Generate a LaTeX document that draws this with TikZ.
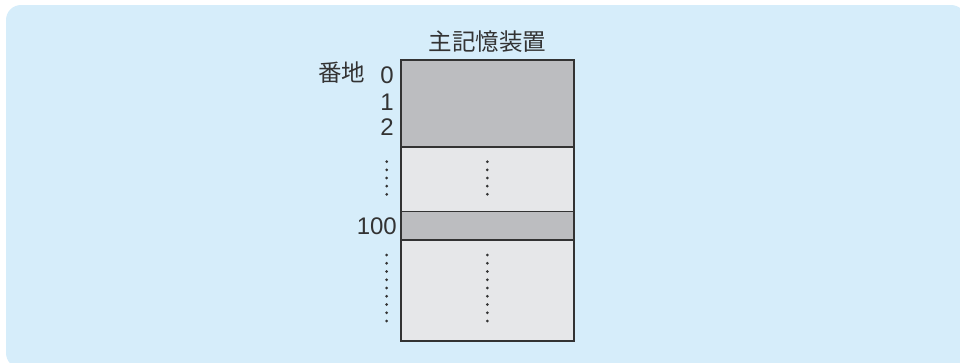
\documentclass[tikz,border=0pt]{standalone}
\usepackage{fontspec}
\setmainfont{Liberation Sans}
\newfontfamily\cjk{Noto Sans CJK JP}
\definecolor{bgblue}{HTML}{D6EDFA}
\definecolor{darkcell}{HTML}{BCBDC0}
\definecolor{lightcell}{HTML}{E6E7E9}
\definecolor{ink}{HTML}{333333}
\tikzset{
  cell/.style={draw=ink, line width=1.6pt},
  lbl/.style={text=ink, inner sep=0pt, font=\fontsize{24}{24}\selectfont},
  cjklbl/.style={text=ink, inner sep=0pt, font=\cjk\fontsize{23.5}{23.5}\selectfont},
  dotmark/.style={fill=ink, draw=none}
}
\begin{document}
\begin{tikzpicture}[x=1pt,y=-1pt]
\useasboundingbox (0,0) rectangle (960,362);
\begin{scope}
\clip (0,0) rectangle (960,362);
\fill[bgblue, rounded corners=15pt] (6,5) rectangle (966,368);
\end{scope}
% memory cells
\draw[cell, fill=darkcell] (401,60) rectangle (574,146.7);
\draw[cell, fill=lightcell] (401,146.7) rectangle (574,211.3);
\draw[cell, fill=darkcell] (401,211.3) rectangle (574,240);
\draw[cell, fill=lightcell] (401,240) rectangle (574,341);
% title
\node[cjklbl] (title) at (487.5,42) {主記憶装置};
% address labels
\node[cjklbl, anchor=east] (addr) at (365.5,72.5) {番地};
\node[lbl, anchor=base east] (a0) at (394,83.3) {0};
\node[lbl, anchor=base east] (a1) at (394,110.7) {1};
\node[lbl, anchor=base east] (a2) at (394,135.3) {2};
\node[lbl, anchor=base east] (a100) at (397,234) {100};
% dots
\foreach \i in {0,...,4} {
  \fill[dotmark] (386.7,161.7+8.15*\i) circle (1.5);
  \fill[dotmark] (487.3,161.7+8.15*\i) circle (1.5);
}
\foreach \i in {0,...,8} {
  \fill[dotmark] (386.7,255+8.25*\i) circle (1.5);
  \fill[dotmark] (487.3,255+8.25*\i) circle (1.5);
}
\end{tikzpicture}
\end{document}
